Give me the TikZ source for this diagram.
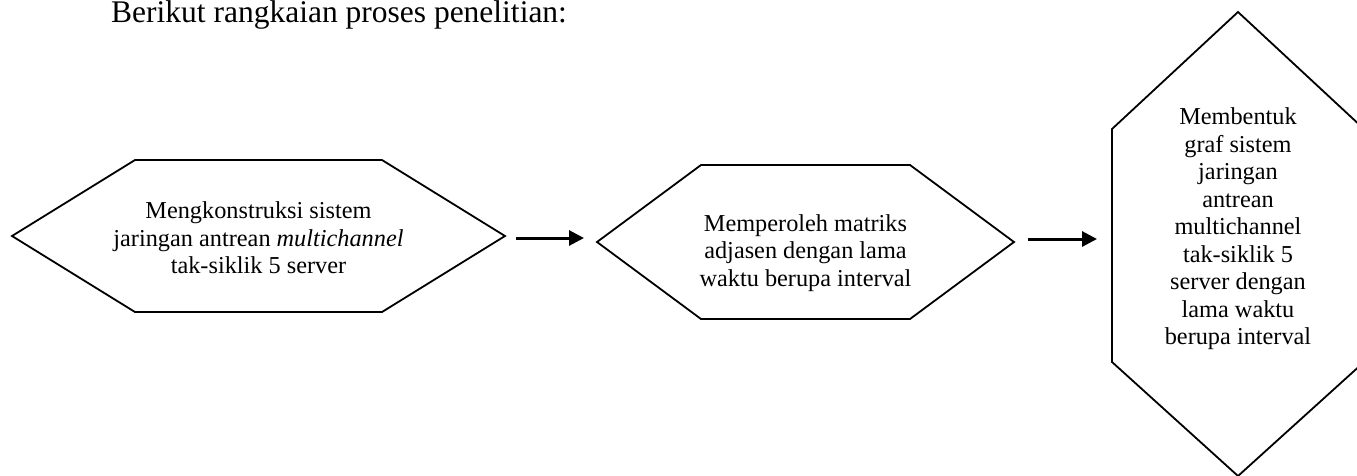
\documentclass[tikz,border=0pt]{standalone}
\usepackage{fontspec}
\setmainfont{Liberation Serif}
\usetikzlibrary{arrows.meta}
\begin{document}
\begin{tikzpicture}[x=1pt,y=-1pt,
  hex/.style={draw=black,line width=1.8pt,line join=miter},
  boxtext/.style={align=center,font=\fontsize{24.3}{27.5}\selectfont,inner sep=0pt},
  arr/.style={draw=black,line width=3pt,-{Triangle[length=15pt,width=15pt]}}]
\useasboundingbox (0,0) rectangle (1357,475);
\node[anchor=base west,font=\fontsize{31.5}{36}\selectfont,inner sep=0pt] (title) at (111,22.5) {Berikut rangkaian proses penelitian:};
% hexagon 1
\coordinate (h1L) at (12,236);
\coordinate (h1TL) at (135,160);
\coordinate (h1TR) at (382,160);
\coordinate (h1R) at (505,236);
\coordinate (h1BR) at (382,312);
\coordinate (h1BL) at (135,312);
\draw[hex] (h1L) -- (h1TL) -- (h1TR) -- (h1R) -- (h1BR) -- (h1BL) -- cycle;
\node[boxtext] (t1) at (258.5,238) {Mengkonstruksi sistem\\jaringan antrean \textit{multichannel}\\tak-siklik 5 server};
% hexagon 2
\coordinate (h2L) at (597,242);
\coordinate (h2TL) at (701,165);
\coordinate (h2TR) at (910,165);
\coordinate (h2R) at (1014,242);
\coordinate (h2BR) at (910,319);
\coordinate (h2BL) at (701,319);
\draw[hex] (h2L) -- (h2TL) -- (h2TR) -- (h2R) -- (h2BR) -- (h2BL) -- cycle;
\node[boxtext] (t2) at (805.5,253) {Memperoleh matriks\\adjasen dengan lama\\waktu berupa interval};
% hexagon 3
\coordinate (h3T) at (1238,12);
\coordinate (h3TR) at (1364,129);
\coordinate (h3BR) at (1364,362);
\coordinate (h3B) at (1238,476);
\coordinate (h3BL) at (1112,362);
\coordinate (h3TL) at (1112,129);
\draw[hex] (h3T) -- (h3TR) -- (h3BR) -- (h3B) -- (h3BL) -- (h3TL) -- cycle;
\node[boxtext] (t3) at (1238,229) {Membentuk\\graf sistem\\jaringan\\antrean\\multichannel\\tak-siklik 5\\server dengan\\lama waktu\\berupa interval};
% connectors
\coordinate (a1s) at (516,238);
\coordinate (a1e) at (584,238);
\coordinate (a2s) at (1028,239);
\coordinate (a2e) at (1097,239);
\draw[arr] (a1s) -- (a1e);
\draw[arr] (a2s) -- (a2e);
\end{tikzpicture}
\end{document}
